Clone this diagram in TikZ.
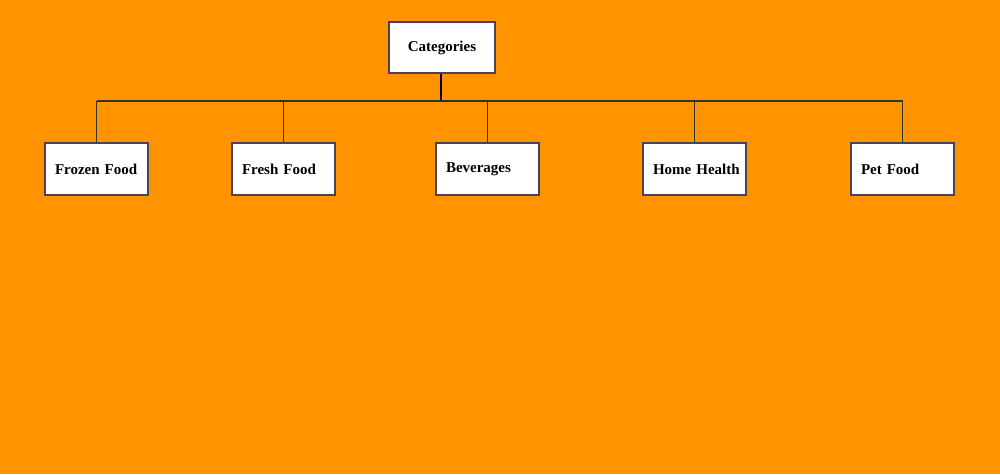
\documentclass[tikz,border=0pt]{standalone}
\usepackage{fontspec}
\setmainfont{Liberation Serif}
\definecolor{bgorange}{HTML}{FF9300}
\definecolor{boxline}{HTML}{4A4258}
\definecolor{conline}{HTML}{2E3330}
\begin{document}
\begin{tikzpicture}[x=1pt,y=-1pt,
  catbox/.style={draw=boxline, line width=2pt, fill=white, minimum width=106pt, minimum height=51pt, inner sep=0pt, font=\fontsize{15}{18}\selectfont\bfseries},
  leafbox/.style={draw=boxline, line width=2pt, fill=white, text width=83pt, inner xsep=10pt, inner ysep=0pt, minimum height=52pt, align=left, font=\fontsize{15}{18}\selectfont\bfseries},
  conn/.style={draw=conline, line width=1.8pt},
  stem/.style={draw=black, line width=2.5pt}]
\fill[bgorange] (0,0) rectangle (1000,474);
\useasboundingbox (0,0) rectangle (1000,474);
\node[catbox] (cat) at (442,47.5) {Categories};
\node[leafbox] (frozen) at (96.5,169) {\mbox{Frozen Food}};
\node[leafbox] (fresh) at (283.5,169) {\mbox{Fresh Food}};
\node[leafbox] (bev) at (487.5,169) {\mbox{Beverages}};
\node[leafbox] (home) at (694.5,169) {\mbox{Home Health}};
\node[leafbox] (pet) at (902.5,169) {\mbox{Pet Food}};
\coordinate (bus) at (441,101);
\draw[stem] (cat.south -| bus) -- (bus);
\draw[conn] (frozen.north |- bus) -- (pet.north |- bus);
\foreach \n in {frozen,fresh,bev,home,pet}
  \draw[conn] (\n.north |- bus) -- (\n.north);
\end{tikzpicture}
\end{document}
